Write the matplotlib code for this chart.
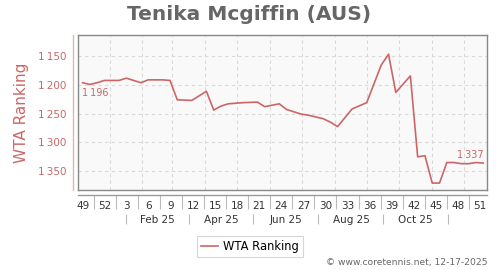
import matplotlib
matplotlib.use("Agg")
import matplotlib.pyplot as plt
from datetime import date

# ---- data ----
weeks = [0, 1, 2, 3, 5, 6, 8, 9, 11, 12, 13, 15, 17, 18, 19, 20, 22, 24, 25, 27, 28,
         30, 31, 33, 34, 35, 37, 39, 41, 42, 43, 45, 46, 47, 48, 49, 50, 51, 52, 53, 54, 55]
ranks = [1196, 1199, 1196, 1192, 1192, 1188, 1196, 1191, 1191, 1192, 1226, 1227, 1211,
         1244, 1237, 1233, 1231, 1230, 1238, 1233, 1243, 1251, 1253, 1259, 1265, 1273,
         1242, 1231, 1165, 1146, 1213, 1184, 1326, 1324, 1372, 1372, 1336, 1336, 1338,
         1338, 1336, 1337]
week_labels = ['49', '52', '3', '6', '9', '12', '15', '18', '21', '24', '27', '30',
               '33', '36', '39', '42', '45', '48', '51']
month_labels = ['Feb 25', 'Apr 25', 'Jun 25', 'Aug 25', 'Oct 25']
y_ticks = [1150, 1200, 1250, 1300, 1350]

title = 'Tenika Mcgiffin (AUS)'
series_name = 'WTA Ranking'
credit = '\u00a9 www.coretennis.net, 12-17-2025'

RED = '#cc6666'
TXT = '#333333'


def fmt(v):
    return f"{v // 1000}\u2009{v % 1000:03d}"


# month-start grid positions (in week units)
month_days = [(date(2025, m, 1) - date(2025, 1, 1)).days for m in range(1, 13)]
grid_x = [3.70 + d * 0.1457 for d in month_days]
sep_x = [(grid_x[i] + grid_x[i + 1]) / 2 for i in range(0, 12, 2)]
lab_x = [(grid_x[i] + grid_x[i + 1]) / 2 for i in range(1, 11, 2)]

step = 3.031  # spacing of 3-week labels on this axis
wk_major = [k * step for k in range(len(week_labels))]
wk_minor = [(k + 0.5) * step for k in range(len(week_labels) - 1)]

fig = plt.figure(figsize=(5, 2.7), dpi=100)
ax = fig.add_axes([0.1566, 0.2952, 0.818, 0.5741])
ax.set_facecolor('#f9f9f9')
ax.set_xlim(-0.59, 55.56)
ax.set_ylim(1384.7, 1112.8)

for s in ax.spines.values():
    s.set_color('#888888')
    s.set_linewidth(1.0)

ax.set_xticks(grid_x)
ax.set_yticks(y_ticks)
ax.tick_params(length=0, labelbottom=False, labelleft=False)
ax.grid(True, color='#d9d9d9', linestyle=(0, (3, 3)), linewidth=0.8)
ax.set_axisbelow(True)

line, = ax.plot(weeks, ranks, color=RED, linewidth=1.2, label=series_name, zorder=3)

ax.annotate(fmt(ranks[0]), (weeks[0], ranks[0]), xytext=(-0.5, -4),
            textcoords='offset points', ha='left', va='top', fontsize=7, color=RED)
ax.annotate(fmt(ranks[-1]), (weeks[-1], ranks[-1]), xytext=(0, 2),
            textcoords='offset points', ha='right', va='bottom', fontsize=7, color=RED)

# y axis (detached)
secy = ax.secondary_yaxis(-0.012)
secy.set_yticks(y_ticks, [fmt(v) for v in y_ticks])
secy.tick_params(length=0, pad=5, labelsize=7.5, colors=RED)
secy.spines['left'].set_color('#e3b3b3')
secy.spines['left'].set_linewidth(1.0)

fig.text(21.5 / 500, 1 - 112.5 / 270, series_name, rotation=90, ha='center',
         va='center', fontsize=11, color=RED)

# week axis
secw = ax.secondary_xaxis(-0.030)
secw.set_xticks(wk_major, week_labels)
secw.set_xticks(wk_minor, minor=True)
secw.tick_params(which='major', length=0, pad=4.3, labelsize=7.5, colors=TXT)
secw.tick_params(which='minor', length=10, width=0.8, color='#bbbbbb')
secw.spines['bottom'].set_color('#999999')
secw.spines['bottom'].set_linewidth(1.0)

# month axis
secm = ax.secondary_xaxis(-0.153)
secm.set_xticks(sep_x)
secm.set_xticks(lab_x, month_labels, minor=True)
secm.tick_params(which='major', length=7, width=0.8, color='#bbbbbb', labelbottom=False)
secm.tick_params(which='minor', length=0, pad=0.5, labelsize=7.5, colors=TXT)
secm.spines['bottom'].set_visible(False)

fig.text(0.498, 1 - 14 / 270, title, ha='center', va='center', fontsize=14.5,
         fontweight='bold', color='#666666')

leg = fig.legend(handles=[line], loc='center', bbox_to_anchor=(0.5, 1 - 246.5 / 270),
                 fontsize=8.3, frameon=True, fancybox=False, handlelength=1.5,
                 handletextpad=0.4, borderpad=0.35)
leg.get_frame().set_edgecolor('#cccccc')
leg.get_frame().set_linewidth(0.8)

fig.text(488 / 500, 1 - 263 / 270, credit, ha='right', va='center', fontsize=6.6,
         color='#666666')

fig.savefig('out.png', dpi=100)
